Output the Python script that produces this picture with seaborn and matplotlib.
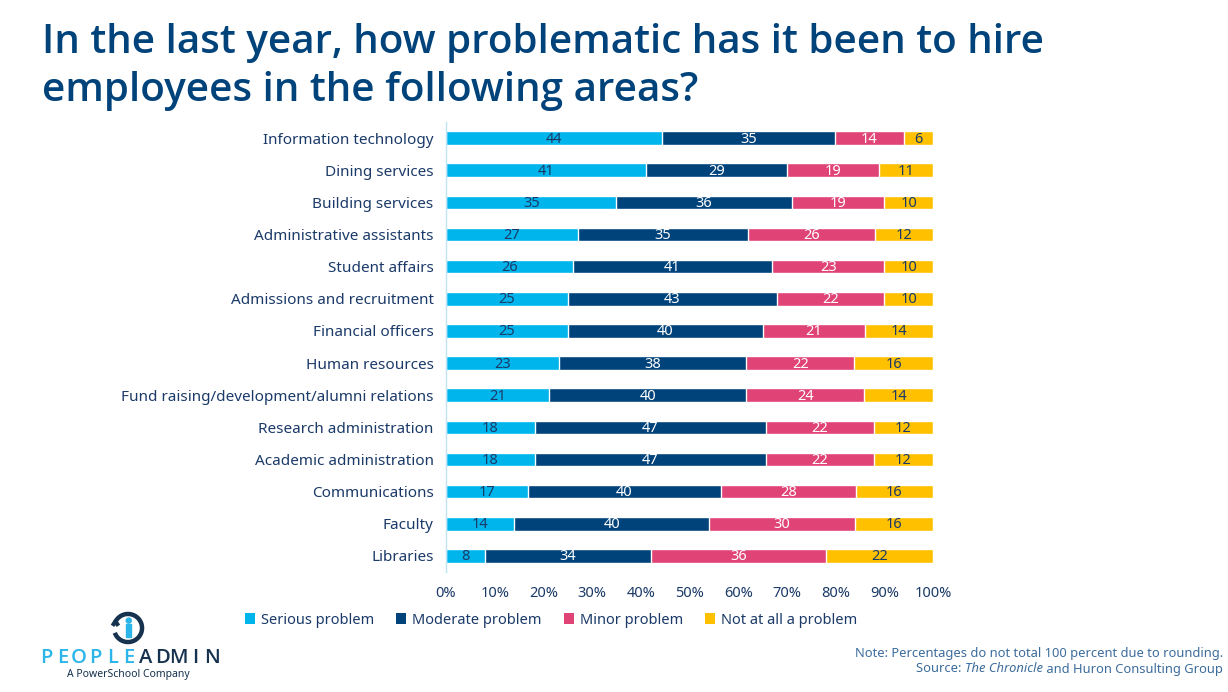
import numpy as np
import pandas as pd
import matplotlib
matplotlib.use("Agg")
import matplotlib.pyplot as plt
import seaborn as sns
from matplotlib.offsetbox import TextArea, HPacker, AnnotationBbox
from matplotlib.patches import Arc, Circle, Patch

# dados
categorias = [
    "Information technology", "Dining services", "Building services",
    "Administrative assistants", "Student affairs", "Admissions and recruitment",
    "Financial officers", "Human resources", "Fund raising/development/alumni relations",
    "Research administration", "Academic administration", "Communications",
    "Faculty", "Libraries",
]
serious = [44, 41, 35, 27, 26, 25, 25, 23, 21, 18, 18, 17, 14, 8]
moderate = [35, 29, 36, 35, 41, 43, 40, 38, 40, 47, 47, 40, 40, 34]
minor = [14, 19, 19, 26, 23, 22, 21, 22, 24, 22, 22, 28, 30, 36]
not_at_all = [6, 11, 10, 12, 10, 10, 14, 16, 14, 12, 12, 16, 16, 22]
series = ["Serious problem", "Moderate problem", "Minor problem", "Not at all a problem"]
ticks_x = [0, 10, 20, 30, 40, 50, 60, 70, 80, 90, 100]

cores = ["#00B5EC", "#00427A", "#E04376", "#FFC000"]
cor_texto_barra = ["#1B3A68", "white", "white", "#1B3A68"]
azul_escuro = "#00427A"
azul_texto = "#1B3A68"

sns.set_theme(style="white")
plt.rcParams["font.family"] = ["Noto Sans", "DejaVu Sans"]

df = pd.DataFrame({"cat": categorias, series[0]: serious, series[1]: moderate,
                   series[2]: minor, series[3]: not_at_all})
vals = df[series].to_numpy(dtype=float)
total = vals.sum(axis=1, keepdims=True)
pct = vals / total * 100
cum = np.cumsum(pct, axis=1)

fig = plt.figure(figsize=(12.28, 6.92), dpi=100)
ax = fig.add_axes([0.3632, 0.1734, 0.3966, 0.6503])

# barras empilhadas: desenha da maior soma acumulada para a menor
for i in range(3, -1, -1):
    d = pd.DataFrame({"cat": categorias, "x": cum[:, i]})
    sns.barplot(data=d, x="x", y="cat", color=cores[i], width=0.42,
                saturation=1, orient="h", ax=ax, zorder=2)

# rótulos
for r in range(len(categorias)):
    for i in range(4):
        centro = cum[r, i] - pct[r, i] / 2
        ax.text(centro, r + 0.03, f"{int(vals[r, i])}", ha="center", va="center",
                fontsize=10.5, color=cor_texto_barra[i], zorder=3)

ax.set_xlim(0, 100)
ax.set_ylim(len(categorias) - 0.5, -0.5)
ax.set_xticks(ticks_x)
ax.set_xticklabels([f"{t}%" for t in ticks_x], fontsize=10.5, color=azul_texto)
ax.tick_params(axis="y", labelsize=11, labelcolor=azul_texto, length=0, pad=9)
ax.tick_params(axis="x", length=0, pad=10)
ax.set_xlabel("")
ax.set_ylabel("")
for s in ["top", "right", "bottom"]:
    ax.spines[s].set_visible(False)
ax.spines["left"].set_color("#BFE3F7")
ax.spines["left"].set_linewidth(1)

# título (ajusta o tamanho à largura da referência)
titulo = fig.text(42 / 1228, 1 - 67 / 692,
                  "In the last year, how problematic has it been to hire\nemployees in the following areas?",
                  fontsize=28, fontweight="semibold", color=azul_escuro, ha="left", va="center",
                  linespacing=1.25, family=["Open Sans", "DejaVu Sans"])
fig.canvas.draw()
largura = titulo.get_window_extent().width
titulo.set_fontsize(28 * 1003 / largura)

# legenda
handles = [Patch(facecolor=c, edgecolor="none") for c in cores]
fig.legend(handles, series, loc="center left", bbox_to_anchor=(232 / 1228, 1 - 620 / 692),
           ncol=4, frameon=False, fontsize=10.5, labelcolor=azul_texto,
           handlelength=0.7, handleheight=0.7, handletextpad=0.4, columnspacing=1.5)

# nota e fonte
cor_nota = "#3C6C9C"
fig.text(1223 / 1228, 1 - 653 / 692,
         "Note: Percentages do not total 100 percent due to rounding.",
         fontsize=9.3, color=cor_nota, ha="right", va="center")
partes = HPacker(children=[
    TextArea("Source: ", textprops=dict(fontsize=9.3, color=cor_nota)),
    TextArea("The Chronicle", textprops=dict(fontsize=9.3, color=cor_nota, style="italic")),
    TextArea(" and Huron Consulting Group", textprops=dict(fontsize=9.3, color=cor_nota)),
], pad=0, sep=0)
ab = AnnotationBbox(partes, (1223 / 1228, 1 - 669 / 692), xycoords="figure fraction",
                    box_alignment=(1, 0.5), frameon=False)
fig.add_artist(ab)

# logotipo
logo = fig.add_axes([110 / 1228, 1 - 645 / 692, 36 / 1228, 34 / 692])
logo.set_xlim(-1.2, 1.2)
logo.set_ylim(-1.15, 1.15)
logo.set_aspect("equal")
logo.axis("off")
logo.add_patch(Arc((0, 0), 1.9, 1.9, theta1=200, theta2=160, lw=3.2, color="#16324F"))
logo.plot([-1.05, -0.85, -0.65], [0.15, 0.45, 0.15], color="#16324F", lw=3, solid_capstyle="butt")
logo.add_patch(Circle((0.05, 0.5), 0.17, color="#2BB5E8"))
logo.add_patch(plt.Rectangle((-0.13, -0.6), 0.36, 0.85, color="#2BB5E8"))
letras = "PEOPLEADMIN"
for k, ch in enumerate(letras):
    fig.text((46 + k * 16.6) / 1228, 1 - 658 / 692, ch, fontsize=14.5,
             color="#2BB5E8" if k < 6 else "#16324F", ha="center", va="center",
             fontweight="semibold", family=["Open Sans", "DejaVu Sans"])
fig.text(128 / 1228, 1 - 674 / 692, "A PowerSchool Company", fontsize=7.5,
         color="#16324F", ha="center", va="center")

fig.savefig("out.png", dpi=100)
